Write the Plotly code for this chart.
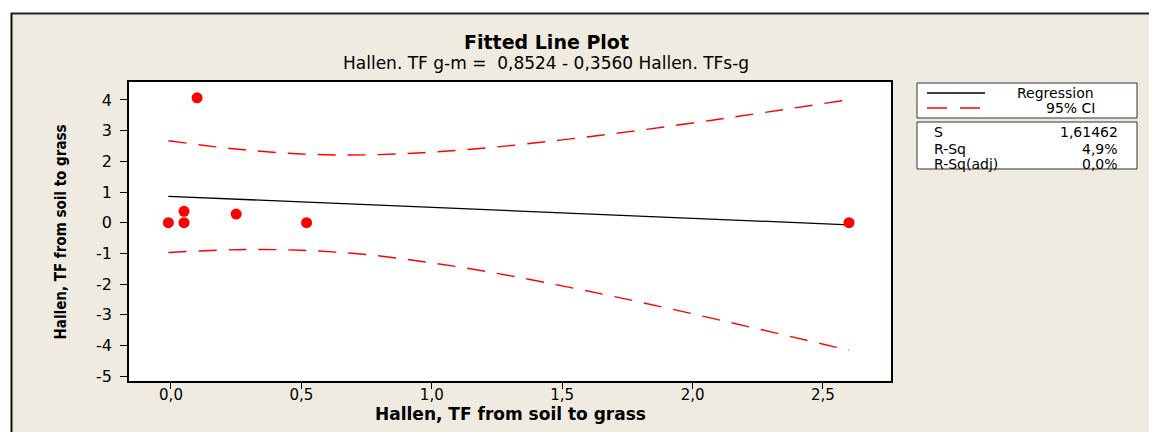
import plotly.graph_objects as go

# ---------------- data ----------------
obs_x = [-0.01, 0.05, 0.05, 0.10, 0.25, 0.52, 2.60]
obs_y = [0.00, 0.00, 0.37, 4.07, 0.28, 0.00, 0.00]

reg_x = [-0.01, 2.60]
reg_y = [0.86, -0.07]

ci_x = [-0.01, 0.25, 0.50, 0.75, 1.00, 1.25, 1.50, 1.75, 2.00, 2.25, 2.60]
ci_upper = [2.67, 2.40, 2.24, 2.21, 2.30, 2.47, 2.70, 2.96, 3.25, 3.56, 4.01]
ci_lower = [-0.97, -0.88, -0.90, -1.04, -1.31, -1.65, -2.06, -2.50, -2.97, -3.46, -4.16]

x_ticks = [0.0, 0.5, 1.0, 1.5, 2.0, 2.5]
x_tick_labels = ["0,0", "0,5", "1,0", "1,5", "2,0", "2,5"]
y_ticks = [-5, -4, -3, -2, -1, 0, 1, 2, 3, 4]
y_tick_labels = ["-5", "-4", "-3", "-2", "-1", "0", "1", "2", "3", "4"]

legend_names = ["Regression", "95% CI"]
stat_names = ["S", "R-Sq", "R-Sq(adj)"]
stat_values = ["1,61462", "4,9%", "0,0%"]

title = "Fitted Line Plot"
subtitle = "Hallen. TF g-m =  0,8524 - 0,3560 Hallen. TFs-g"
x_title = "Hallen, TF from soil to grass"
y_title = "Hallen, TF from soil to grass"

# ---------------- layout geometry ----------------
W, H = 1149, 432
ML, MT, MR, MB = 129, 82, 258, 51
PW, PH = W - ML - MR, H - MT - MB
BEIGE = "#EFEBE1"
FONT = "DejaVu Sans, Verdana, sans-serif"


def PX(x):
    return (x - ML) / PW


def PY(y):
    return 1 - (y - MT) / PH


fig = go.Figure()

fig.add_trace(go.Scatter(x=ci_x, y=ci_upper, mode="lines", line_shape="spline",
                         line=dict(color="#FF0000", width=1.4, dash="18px,12px"),
                         showlegend=False, hoverinfo="skip"))
fig.add_trace(go.Scatter(x=ci_x, y=ci_lower, mode="lines", line_shape="spline",
                         line=dict(color="#FF0000", width=1.4, dash="18px,12px"),
                         showlegend=False, hoverinfo="skip"))
fig.add_trace(go.Scatter(x=reg_x, y=reg_y, mode="lines",
                         line=dict(color="black", width=1.3),
                         showlegend=False))
fig.add_trace(go.Scatter(x=obs_x, y=obs_y, mode="markers",
                         marker=dict(color="#FF0000", size=11, symbol="circle"),
                         showlegend=False))

shapes = []
shapes.append(dict(type="rect", xref="paper", yref="paper", layer="below",
                   x0=PX(-5), x1=PX(W + 5), y0=PY(-5), y1=PY(13),
                   fillcolor="white", line=dict(width=0)))
shapes.append(dict(type="rect", xref="paper", yref="paper", layer="below",
                   x0=PX(-5), x1=PX(11), y0=PY(-5), y1=PY(H + 5),
                   fillcolor="white", line=dict(width=0)))
shapes.append(dict(type="line", xref="paper", yref="paper",
                   x0=PX(11), x1=PX(W + 5), y0=PY(13.5), y1=PY(13.5),
                   line=dict(color="#222222", width=2)))
shapes.append(dict(type="line", xref="paper", yref="paper",
                   x0=PX(11.5), x1=PX(11.5), y0=PY(13), y1=PY(H + 5),
                   line=dict(color="#111111", width=2)))
shapes.append(dict(type="rect", xref="paper", yref="paper",
                   x0=PX(917), x1=PX(1137), y0=PY(83), y1=PY(118),
                   fillcolor="white", line=dict(color="#333333", width=1)))
shapes.append(dict(type="rect", xref="paper", yref="paper",
                   x0=PX(917), x1=PX(1137), y0=PY(122), y1=PY(169),
                   fillcolor="white", line=dict(color="#333333", width=1)))
shapes.append(dict(type="line", xref="paper", yref="paper",
                   x0=PX(927), x1=PX(985), y0=PY(93), y1=PY(93),
                   line=dict(color="black", width=1.3)))
shapes.append(dict(type="line", xref="paper", yref="paper",
                   x0=PX(927), x1=PX(985), y0=PY(108), y1=PY(108),
                   line=dict(color="#FF0000", width=1.4, dash="20px,13px")))

annotations = []
annotations.append(dict(text="<b>" + title + "</b>", x=PX(546), y=PY(42),
                        xref="paper", yref="paper", showarrow=False,
                        xanchor="center", yanchor="middle",
                        font=dict(family=FONT, size=19, color="black")))
annotations.append(dict(text=subtitle, x=PX(546), y=PY(63),
                        xref="paper", yref="paper", showarrow=False,
                        xanchor="center", yanchor="middle",
                        font=dict(family=FONT, size=17, color="black")))
annotations.append(dict(text="<b>" + x_title + "</b>", x=0.5, y=PY(414),
                        xref="paper", yref="paper", showarrow=False,
                        xanchor="center", yanchor="middle",
                        font=dict(family=FONT, size=17, color="black")))
annotations.append(dict(text="<b>" + y_title + "</b>", x=PX(60.5), y=PY(232),
                        xref="paper", yref="paper", showarrow=False,
                        xanchor="center", yanchor="middle", textangle=-90,
                        font=dict(family="DejaVu Sans Condensed, Liberation Sans Narrow, Arial Narrow, sans-serif",
                                  size=15, color="black")))
leg_y = [93, 108]
leg_xr = [1096, 1097]
for name, yy, xr in zip(legend_names, leg_y, leg_xr):
    annotations.append(dict(text=name, x=PX(xr), y=PY(yy), xref="paper", yref="paper",
                            showarrow=False, xanchor="right", yanchor="middle",
                            font=dict(family=FONT, size=14, color="black")))
stat_y = [132, 149, 164]
for name, val, yy in zip(stat_names, stat_values, stat_y):
    annotations.append(dict(text=name, x=PX(932), y=PY(yy), xref="paper", yref="paper",
                            showarrow=False, xanchor="left", yanchor="middle",
                            font=dict(family=FONT, size=14, color="black")))
    annotations.append(dict(text=val, x=PX(1120), y=PY(yy), xref="paper", yref="paper",
                            showarrow=False, xanchor="right", yanchor="middle",
                            font=dict(family=FONT, size=14, color="black")))

fig.update_layout(
    width=W, height=H,
    margin=dict(l=ML, r=MR, t=MT, b=MB, pad=0),
    paper_bgcolor=BEIGE, plot_bgcolor="white",
    showlegend=False,
    font=dict(family=FONT, color="black"),
    shapes=shapes, annotations=annotations,
    xaxis=dict(range=[-0.161, 2.761], tickvals=x_ticks, ticktext=x_tick_labels,
               ticks="outside", ticklen=6, tickwidth=1.2, tickcolor="black",
               showline=True, linecolor="black", linewidth=1.5, mirror=True,
               showgrid=False, zeroline=False, ticklabelstandoff=-7,
               tickfont=dict(family=FONT, size=15, color="black")),
    yaxis=dict(range=[-5.16, 4.586], tickvals=y_ticks, ticktext=y_tick_labels,
               ticks="outside", ticklen=7, tickwidth=1.2, tickcolor="black",
               showline=True, linecolor="black", linewidth=1.5, mirror=True,
               showgrid=False, zeroline=False, ticklabelstandoff=5,
               tickfont=dict(family=FONT, size=16, color="black")),
)

fig.write_html("out.html")
